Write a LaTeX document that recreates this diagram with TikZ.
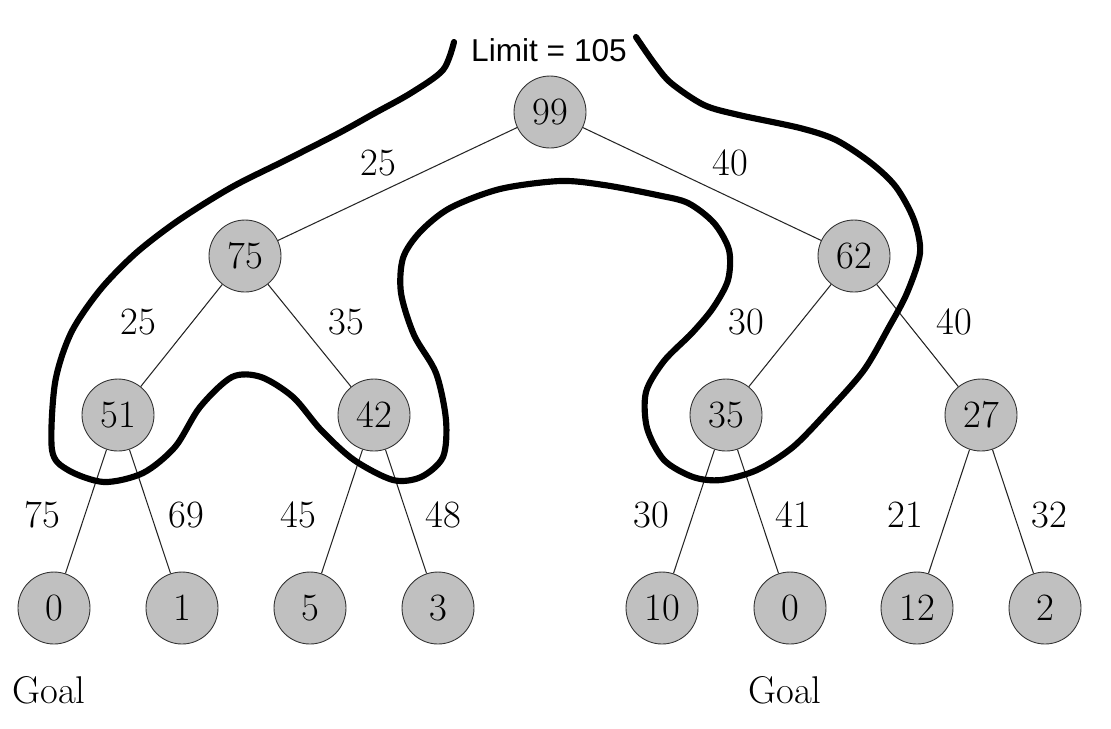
\documentclass[tikz,border=0pt]{standalone}
\usepackage{fontspec}
\newfontfamily\limitfont{Liberation Sans}
\definecolor{nodegray}{RGB}{192,192,192}
\begin{document}
\begin{tikzpicture}[x=0.02cm,y=-0.02cm,
  tnode/.style={circle,draw=black!80,line width=0.5pt,fill=nodegray,minimum size=1.44cm,inner sep=0pt,font=\fontsize{22}{26}\selectfont},
  elabel/.style={font=\fontsize{22}{26}\selectfont,inner sep=0pt},
  edge/.style={draw=black!85,line width=0.6pt},
  hand/.style={line width=3.5pt,line cap=round,line join=round}]
\useasboundingbox (0,0) rectangle (1111,728);
% nodes
\node[tnode] (n99) at (550,112) {99};
\node[tnode] (n75) at (245,256) {75};
\node[tnode] (n62) at (854,256) {62};
\node[tnode] (n51) at (118,415) {51};
\node[tnode] (n42) at (374,415) {42};
\node[tnode] (n35) at (726,415) {35};
\node[tnode] (n27) at (981,415) {27};
\node[tnode] (l1) at (54,608) {0};
\node[tnode] (l2) at (182,608) {1};
\node[tnode] (l3) at (310,608) {5};
\node[tnode] (l4) at (438,608) {3};
\node[tnode] (l5) at (662,608) {10};
\node[tnode] (l6) at (790,608) {0};
\node[tnode] (l7) at (917,608) {12};
\node[tnode] (l8) at (1045,608) {2};
% edges
\draw[edge] (n99) -- (n75);
\draw[edge] (n99) -- (n62);
\draw[edge] (n75) -- (n51);
\draw[edge] (n75) -- (n42);
\draw[edge] (n62) -- (n35);
\draw[edge] (n62) -- (n27);
\draw[edge] (n51) -- (l1);
\draw[edge] (n51) -- (l2);
\draw[edge] (n42) -- (l3);
\draw[edge] (n42) -- (l4);
\draw[edge] (n35) -- (l5);
\draw[edge] (n35) -- (l6);
\draw[edge] (n27) -- (l7);
\draw[edge] (n27) -- (l8);
% edge labels
\node[elabel] (e1) at (378,163) {25};
\node[elabel] (e2) at (730,163) {40};
\node[elabel] (e3) at (138,322) {25};
\node[elabel] (e4) at (346,322) {35};
\node[elabel] (e5) at (746,322) {30};
\node[elabel] (e6) at (954,322) {40};
\node[elabel] (e7) at (42,515) {75};
\node[elabel] (e8) at (186,515) {69};
\node[elabel] (e9) at (298,515) {45};
\node[elabel] (e10) at (443,515) {48};
\node[elabel] (e11) at (651,515) {30};
\node[elabel] (e12) at (793,515) {41};
\node[elabel] (e13) at (905,515) {21};
\node[elabel] (e14) at (1049,515) {32};
% goal labels
\node[elabel] (g1) at (49,690) {Goal};
\node[elabel] (g2) at (785,690) {Goal};
% limit
\node[inner sep=0pt,font=\limitfont\fontsize{18}{22}\selectfont] (lim) at (549,50) {Limit = 105};
% hand-drawn contour
\draw[hand] plot[smooth,tension=0.5] coordinates {
(454,42) (443,70) (411,93) (375,113) (339,133) (286,160) (232,187) (179,220) (136,253) (100,290) (71,333) (55,383) (52,450) (68,470) (104,482) (143,473) (175,447) (200,407) (232,377) (261,377) (293,397) (321,430) (354,460) (393,480) (421,477) (443,457) (446,420) (436,373) (414,335) (401,293) (403,258) (420,232) (450,208) (500,189) (560,181) (604,185) (657,195) (688,203) (714,223) (729,250) (728,280) (713,308) (692,333) (664,361) (646,392) (647,428) (664,460) (693,477) (721,480) (757,470) (793,447) (829,410) (864,370) (889,327) (907,293) (920,253) (914,220) (896,187) (871,163) (836,140) (800,128) (739,115) (704,105) (671,83) (654,63) (636,37)};
\end{tikzpicture}
\end{document}
